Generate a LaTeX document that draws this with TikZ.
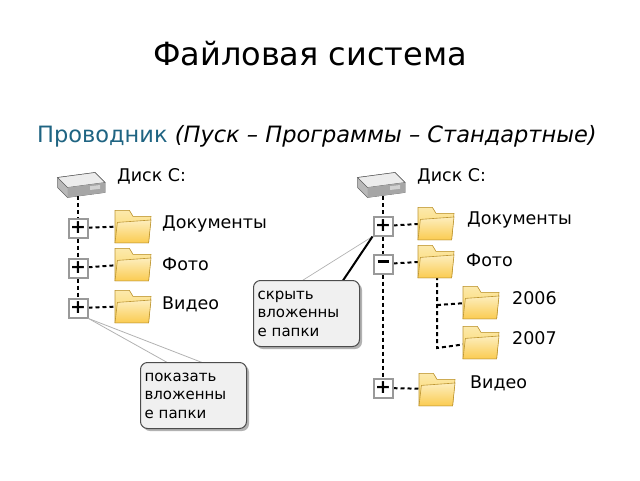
\documentclass[tikz,border=0pt]{standalone}
\usepackage{fontspec}
\setmainfont{DejaVu Sans}
\usetikzlibrary{shadows}
\definecolor{teal1}{RGB}{31,100,130}
\definecolor{fold}{RGB}{250,212,90}
\definecolor{foldd}{RGB}{190,150,50}
\begin{document}
\begin{tikzpicture}[x=1pt,y=-1pt,
 lbl/.style={anchor=west,font=\fontsize{17.5}{20}\selectfont,inner sep=0},
 pbox/.style={draw=gray!80,line width=2pt,fill=white,minimum size=19pt,inner sep=0,font=\fontsize{19}{19}\selectfont\bfseries},
 tree/.style={line width=2pt,dash pattern=on 4pt off 3pt},
 callout/.style={draw=black!70,line width=1pt,fill=gray!12,rounded corners=7pt,align=left,anchor=north west,inner xsep=4pt,inner ysep=6pt,minimum height=66pt,font=\fontsize{15}{18.5}\selectfont,drop shadow={shadow xshift=2.5pt,shadow yshift=-2.5pt,fill=black!60},text width=98pt}]
\useasboundingbox (0,0) rectangle (640,480);
\tikzset{folder/.pic={
 \begin{scope}[scale=1.2]
 \fill[foldd] (-15,-13) -- (-15,14) -- (13,14) -- (15,-8) -- (0,-8) -- (-3,-13) -- cycle;
 \shade[top color=fold!50,bottom color=fold,draw=foldd,line width=0.6pt] (-15,-13) -- (-3,-13) -- (0,-8) -- (15,-8) -- (13,14) -- (-15,14) -- cycle;
 \shade[top color=fold!40,bottom color=fold!90!orange,draw=foldd,line width=0.6pt] (-13,-3) -- (15,-5) -- (13,14) -- (-15,14) -- cycle;
 \end{scope}
}}
\tikzset{disk/.pic={
 \begin{scope}[scale=1.25]
 \fill[gray!55,draw=gray!80!black,line width=0.5pt] (-18,-2) -- (12,-6) -- (20,2) -- (20,10) -- (-10,14) -- (-18,6) -- cycle;
 \fill[gray!15,draw=gray!70!black,line width=0.5pt] (-18,-2) -- (12,-6) -- (20,2) -- (-10,6) -- cycle;
 \fill[gray!70] (-10,6) -- (20,2) -- (20,10) -- (-10,14) -- cycle;
 \fill[gray!35] (8,5) -- (16,4) -- (16,7) -- (8,8) -- cycle;
 \end{scope}
}}
\node (title) at (310,54) {\fontsize{32}{34}\selectfont Файловая система};
\node[anchor=west,inner sep=0] (head) at (37,136) {\fontsize{22.5}{24}\selectfont\color{teal1}Проводник \color{black}\itshape(Пуск – Программы – Стандартные)};
% left tree
\pic at (80,180) {disk};
\node[lbl] (ld) at (117,176) {Диск С:};
\coordinate (ltop) at (78,196);
\node[pbox] (lp1) at (78,228) {+};
\node[pbox] (lp2) at (78,268) {+};
\node[pbox] (lp3) at (78,308) {+};
\draw[tree] (ltop) -- (lp1) -- (lp2) -- (lp3);
\coordinate (lf1) at (133,226); \coordinate (lf2) at (133,264); \coordinate (lf3) at (133,306);
\draw[tree] (lp1) -- (lf1); \draw[tree] (lp2) -- (lf2); \draw[tree] (lp3) -- (lf3);
\node[pbox] at (78,228) {+}; \node[pbox] at (78,268) {+}; \node[pbox] at (78,308) {+};
\pic at (lf1) {folder}; \pic at (lf2) {folder}; \pic at (lf3) {folder};
\node[lbl] (l1) at (162,224) {Документы};
\node[lbl] (l2) at (162,264) {Фото};
\node[lbl] (l3) at (162,304) {Видео};
% right tree
\pic at (380,180) {disk};
\node[lbl] (rd) at (417,176) {Диск С:};
\coordinate (rtop) at (383,196);
\node[pbox] (rp1) at (383,226) {+};
\node[pbox] (rp2) at (383,264) {\rule[0.45ex]{11pt}{3pt}};
\node[pbox] (rp3) at (383,388) {+};
\draw[tree] (rtop) -- (rp1) -- (rp2) -- (rp3);
\coordinate (rf1) at (436,223); \coordinate (rf2) at (436,261);
\coordinate (rf3) at (481,302); \coordinate (rf4) at (481,342); \coordinate (rf5) at (437,389);
\coordinate (rs) at (437,276);
\draw[tree] (rp1) -- (rf1); \draw[tree] (rp2) -- (rf2); \draw[tree] (rp3) -- (rf5);
\draw[tree] (rs) -- (437,348) -- (rf4); \draw[tree] (437,305) -- (rf3);
\node[pbox] at (383,226) {+}; \node[pbox] at (383,264) {\rule[0.45ex]{11pt}{3pt}}; \node[pbox] at (383,388) {+};
\pic at (rf1) {folder}; \pic at (rf2) {folder}; \pic at (rf3) {folder}; \pic at (rf4) {folder}; \pic at (rf5) {folder};
\node[lbl] (r1) at (467,220) {Документы};
\node[lbl] (r2) at (466,260) {Фото};
\node[lbl] (r3) at (512,298) {2006};
\node[lbl] (r4) at (512,338) {2007};
\node[lbl] (r5) at (470,383) {Видео};
% callouts
\draw[gray!60,line width=0.7pt] (rp1.south west) -- (300,282);
\draw[line width=2pt] (rp1.south west) -- (342,282);
\node[callout] (c1) at (253,280) {скрыть\\вложенны\\е папки};
\draw[gray!60,line width=0.8pt] (lp3.south east) -- (170,364);
\draw[gray!60,line width=0.8pt] (lp3.south east) -- (206,364);
\node[callout] (c2) at (140,362) {показать\\вложенны\\е папки};
\end{tikzpicture}
\end{document}
